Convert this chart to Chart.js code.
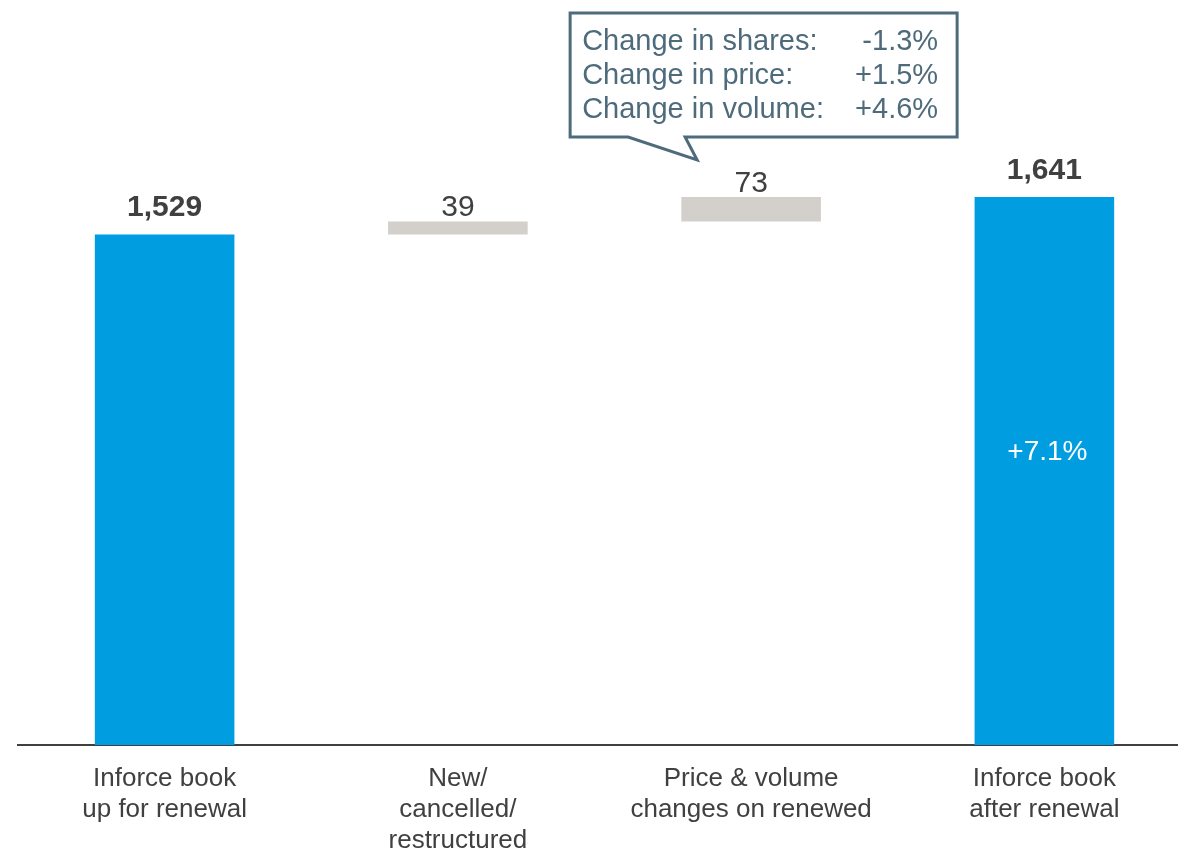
<!DOCTYPE html>
<html>
<head>
<meta charset="utf-8">
<script src="https://cdn.jsdelivr.net/npm/chart.js@4.4.1/dist/chart.umd.min.js"></script>
<style>
  html, body { margin: 0; padding: 0; background: #fff; overflow: hidden; }
  #wrap { width: 1191px; height: 851px; }
</style>
</head>
<body>
<div id="wrap"><canvas id="chart"></canvas></div>
<script>
// waterfall data
const categories = [
  ["Inforce book", "up for renewal"],
  ["New/", "cancelled/", "restructured"],
  ["Price & volume", "changes on renewed"],
  ["Inforce book", "after renewal"]
];
const barStarts = [0, 1529, 1568, 0];
const barEnds = [1529, 1568, 1641, 1641];
const valueLabels = ["1,529", "39", "73", "1,641"];
const isTotal = [true, false, false, true];
const insideLabels = ["", "", "", "+7.1%"];
const calloutLabels = ["Change in shares:", "Change in price:", "Change in volume:"];
const calloutValues = ["-1.3%", "+1.5%", "+4.6%"];

const FONT = "'Liberation Sans', Arial, sans-serif";
const BLUE = "#009EE0";
const GREY = "#D3D0CB";
const TEXT = "#404040";
const SLATE = "#4E6B7C";

const labelPlugin = {
  id: "labels",
  afterDatasetsDraw(chart) {
    const ctx = chart.ctx;
    const meta = chart.getDatasetMeta(0);
    ctx.save();
    ctx.textAlign = "center";
    ctx.textBaseline = "alphabetic";
    meta.data.forEach((bar, i) => {
      const top = Math.min(bar.y, bar.base);
      ctx.fillStyle = TEXT;
      if (isTotal[i]) {
        ctx.font = "bold 30px " + FONT;
        ctx.fillText(valueLabels[i], bar.x, top - 18);
      } else {
        ctx.font = "30px " + FONT;
        ctx.fillText(valueLabels[i], bar.x, top - 5);
      }
      if (insideLabels[i]) {
        const yMid = bar.base - (bar.base - bar.y) * 0.535;
        ctx.font = "28px " + FONT;
        ctx.fillStyle = "#ffffff";
        ctx.textBaseline = "middle";
        ctx.fillText(insideLabels[i], bar.x + 3, yMid);
        ctx.textBaseline = "alphabetic";
      }
    });

    // callout above the price & volume bar
    const b = meta.data[2];
    const left = b.x - 181, right = b.x + 206, top = 13, bottom = 137;
    const tipX = b.x - 54, tipY = 160;
    ctx.beginPath();
    ctx.moveTo(left, top);
    ctx.lineTo(right, top);
    ctx.lineTo(right, bottom);
    ctx.lineTo(b.x - 66, bottom);
    ctx.lineTo(tipX, tipY);
    ctx.lineTo(b.x - 123, bottom);
    ctx.lineTo(left, bottom);
    ctx.closePath();
    ctx.fillStyle = "#ffffff";
    ctx.fill();
    ctx.lineWidth = 3;
    ctx.lineJoin = "miter";
    ctx.strokeStyle = SLATE;
    ctx.stroke();

    ctx.font = "29px " + FONT;
    ctx.fillStyle = SLATE;
    calloutLabels.forEach((t, k) => {
      const y = 50 + k * 34;
      ctx.textAlign = "left";
      ctx.fillText(t, left + 12, y);
      ctx.textAlign = "right";
      ctx.fillText(calloutValues[k], right - 19, y);
    });
    ctx.restore();
  }
};

new Chart(document.getElementById("chart"), {
  type: "bar",
  data: {
    labels: categories,
    datasets: [{
      data: barStarts.map((s, i) => [s, barEnds[i]]),
      backgroundColor: isTotal.map(t => t ? BLUE : GREY),
      borderWidth: 0,
      borderSkipped: false,
      barPercentage: 0.476,
      categoryPercentage: 1
    }]
  },
  options: {
    responsive: true,
    maintainAspectRatio: false,
    animation: false,
    layout: { padding: { top: 144, left: 18, right: 0, bottom: 0 } },
    plugins: { legend: { display: false }, tooltip: { enabled: false } },
    scales: {
      x: {
        grid: { display: false, drawTicks: false },
        border: { display: true, color: "#404040", width: 2 },
        ticks: {
          color: TEXT,
          font: { family: FONT, size: 26, lineHeight: 1.19 },
          padding: 18,
          maxRotation: 0,
          autoSkip: false
        },
        afterFit(scale) { scale.height = 106; }
      },
      y: {
        display: false,
        min: 0,
        max: 1800
      }
    }
  },
  plugins: [labelPlugin]
});
</script>
</body>
</html>
